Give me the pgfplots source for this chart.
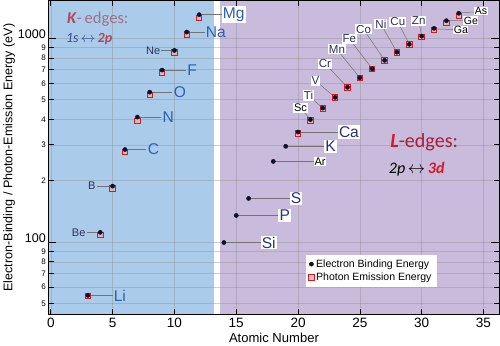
\documentclass[border=0pt]{standalone}
\usepackage{pgfplots}
\pgfplotsset{compat=1.18}
\usepackage{fontspec}
\setmainfont{Liberation Sans}
\newfontfamily\calibri{Carlito}
\definecolor{kblue}{RGB}{170,204,234}
\definecolor{lpurple}{RGB}{201,187,219}
\definecolor{kcolK}{RGB}{176,70,95}
\definecolor{kedges}{RGB}{165,110,135}
\definecolor{k1s}{RGB}{55,75,140}
\definecolor{lred}{RGB}{215,25,45}
\definecolor{ldark}{RGB}{170,30,55}
\definecolor{klab}{RGB}{45,95,175}
\definecolor{llab}{RGB}{40,50,120}
\definecolor{slab}{RGB}{45,50,95}
\definecolor{sqred}{RGB}{205,30,40}
\pgfplotstableread{
x y
3 54.3
4 108.5
5 183.3
6 277
7 392.4
8 524.9
9 676.8
10 848.6
11 1041
12 1253.6
20 341.3
21 395.4
22 452.2
23 511.3
24 572.8
25 637.4
26 705
27 776.2
28 851.5
29 929.7
30 1011.7
31 1097.9
32 1188
33 1282
}\photon
\pgfplotstableread{
x y
3 54.7
4 111.5
5 188
6 284.2
7 409.9
8 543.1
9 696.7
10 870.2
11 1070.8
12 1303
14 99.4
15 135
16 163.6
18 248.4
19 294.6
20 346.2
21 398.7
22 453.8
23 512.1
24 574.1
25 638.7
26 706.8
27 778.1
28 852.7
29 932.7
30 1021.8
31 1116.4
32 1217
33 1323.6
}\binding
\begin{document}
\begin{tikzpicture}[
  bigK/.style={font=\fontsize{15.5}{16}\selectfont, text=klab, inner sep=1bp},
  bigL/.style={font=\fontsize{15.5}{16}\selectfont, text=llab, fill=white, inner sep=1.2bp},
  smK/.style={font=\fontsize{11}{12}\selectfont, text=slab, inner sep=1bp},
  smL/.style={font=\fontsize{11.5}{12}\selectfont, text=slab, fill=white, inner sep=1bp},
  smA/.style={font=\fontsize{11}{12}\selectfont, text=black, fill=white, inner sep=0.8bp},
  smG/.style={font=\fontsize{10.5}{11}\selectfont, text=black, fill=white, inner sep=0.5bp},
  lead/.style={draw=black!55, line width=0.5bp}]
\begin{axis}[
  set layers,
  width=448bp, height=312bp, scale only axis,
  xmin=-0.2, xmax=36.3,
  ymode=log, ymin=44, ymax=1530,
  xtick={0,5,...,35},
  ytick={50,60,70,80,90,200,300,400,500,600,700,800,900},
  yticklabels={5,6,7,8,9,2,3,4,5,6,7,8,9},
  minor ytick={},
  extra y ticks={100,1000},
  extra y tick labels={100,1000},
  extra y tick style={grid=major, major tick length=8bp,
     yticklabel style={font=\fontsize{12.5}{13}\selectfont, yshift=4bp}},
  yticklabel style={font=\fontsize{8}{9}\selectfont, xshift=1bp},
  xticklabel style={font=\fontsize{13.5}{14}\selectfont},
  /pgf/number format/assume math mode=true,
  tick align=inside,
  major tick length=6bp,
  tick style={black, line width=0.7bp},
  axis line style={line width=0.9bp},
  grid=major,
  grid style={draw=black!45, line width=0.4bp, opacity=0.4},
  xlabel={Atomic Number},
  ylabel={Electron-Binding / Photon-Emission Energy (eV)},
  xlabel style={font=\fontsize{13}{14}\selectfont, yshift=2bp},
  ylabel style={font=\fontsize{12.5}{14}\selectfont, yshift=-4bp},
  legend style={at={(axis cs:20.6,87)}, anchor=north west, draw=none, fill=white,
     font=\fontsize{10.5}{12}\selectfont, cells={anchor=west}, inner sep=3bp,
     row sep=0bp},
  reverse legend,
]
\begin{pgfonlayer}{axis background}
\fill[kblue] (-0.2,44) rectangle (13.2,1530);
\fill[lpurple] (13.7,44) rectangle (36.3,1530);
\end{pgfonlayer}

% leader lines
\draw[lead] (12,1303) -- (14.2,1303);
\draw[lead] (11,1070.8) -- (12.45,1070.8);
\draw[lead] (10,870.2) -- (8.95,870.2);
\draw[lead] (9,696.7) -- (10.9,696.7);
\draw[lead] (8,543.1) -- (9.8,543.1);
\draw[lead] (7,409.9) -- (8.9,409.9);
\draw[lead] (6,284.2) -- (7.7,284.2);
\draw[lead] (5,188) -- (3.75,188);
\draw[lead] (4,111.5) -- (2.95,111.5);
\draw[lead] (3,54.7) -- (5.0,54.7);
\draw[lead] (14,99.4) -- (17.4,99.4);
\draw[lead] (15,135) -- (18.8,135);
\draw[lead] (16,163.6) -- (19.7,163.6);
\draw[lead] (18,248.4) -- (21.6,248.4);
\draw[lead] (19,294.6) -- (22.5,294.6);
\draw[lead] (20,346.2) -- (23.8,346.2);
\draw[lead] (21,398.7) -- (20.2,454);
\draw[lead] (22,453.8) -- (20.85,522);
\draw[lead] (23,512.1) -- (21.4,619);
\draw[lead] (24,574.1) -- (22.17,750);
\draw[lead] (25,638.7) -- (23.15,880);
\draw[lead] (26,706.8) -- (24.15,992);
\draw[lead] (27,778.1) -- (25.3,1104);
\draw[lead] (28,852.7) -- (26.7,1173);
\draw[lead] (29,932.7) -- (28.07,1200);
\draw[lead] (30,1021.8) -- (29.76,1218);
\draw[lead] (31,1110) -- (32.9,1100);
\draw[lead] (32,1217) -- (33.7,1218);
\draw[lead] (33,1330) -- (34.5,1345);

\addplot[only marks, mark=square*, mark size=2.7bp,
  mark options={draw=sqred, fill=sqred!35, fill opacity=0.8, line width=0.9bp}]
  table[x=x, y=y] {\photon};
\addlegendentry{Photon Emission Energy}
\addplot[only marks, mark=*, mark size=2.1bp, color={rgb,255:red,15;green,15;blue,40}]
  table[x=x, y=y] {\binding};
\addlegendentry{Electron Binding Energy}

% labels
\node[bigL, text=klab, anchor=west] at (13.8,1303) {Mg};
\node[bigK, anchor=west] at (12.45,1070.8) {Na};
\node[smK, anchor=east] at (8.95,870.2) {Ne};
\node[bigK, anchor=west] at (10.95,696.7) {F};
\node[bigK, anchor=west] at (9.85,543.1) {O};
\node[bigK, anchor=west] at (8.95,409.9) {N};
\node[bigK, anchor=west] at (7.75,284.2) {C};
\node[smK, anchor=east] at (3.72,188) {B};
\node[smK, anchor=east] at (2.9,111.5) {Be};
\node[bigK, anchor=west] at (5.0,54.7) {Li};
\node[bigL, anchor=west] at (16.95,99.4) {Si};
\node[bigL, anchor=west] at (18.4,135) {P};
\node[bigL, anchor=west] at (19.3,163.6) {S};
\node[smA, anchor=west] at (21.25,248.4) {Ar};
\node[bigL, anchor=west] at (22.1,294.6) {K};
\node[bigL, anchor=west] at (23.2,346.2) {Ca};
\node[smA] at (20.2,454) {Sc};
\node[smL] at (20.85,522) {Ti};
\node[smL] at (21.4,619) {V};
\node[smL] at (22.17,750) {Cr};
\node[smL] at (23.15,880) {Mn};
\node[smL] at (24.15,992) {Fe};
\node[smL] at (25.3,1104) {Co};
\node[smL] at (26.7,1173) {Ni};
\node[smL] at (28.07,1200) {Cu};
\node[smL] at (29.76,1218) {Zn};
\node[smG, anchor=west] at (32.55,1096) {Ga};
\node[smG, anchor=west] at (33.36,1220) {Ge};
\node[smG, anchor=west] at (34.25,1358) {As};

% edge annotations
\node[font=\calibri\fontsize{16.5}{18}\selectfont, inner sep=0.5bp] at (3.8,1235)
  {\textcolor{kcolK}{\textbf{\textit{K}}}\textcolor{kedges}{-\,edges:}};
\node[font=\calibri\fontsize{14}{15}\selectfont, inner sep=0.5bp] at (3.1,985)
  {\textcolor{k1s}{\textit{1s}\,$\leftrightarrow$\,}\textcolor{kcolK}{\textbf{\textit{2p}}}};
\node[font=\calibri\fontsize{20}{22}\selectfont] at (30.2,309)
  {\textcolor{lred}{\textbf{\textit{L}}}\textcolor{ldark}{-edges:}};
\node[font=\calibri\fontsize{16}{18}\selectfont] at (29.6,227)
  {\textit{2p}\,$\leftrightarrow$\,\textcolor{lred}{\textbf{\textit{3d}}}};
\end{axis}
\end{tikzpicture}
\end{document}
